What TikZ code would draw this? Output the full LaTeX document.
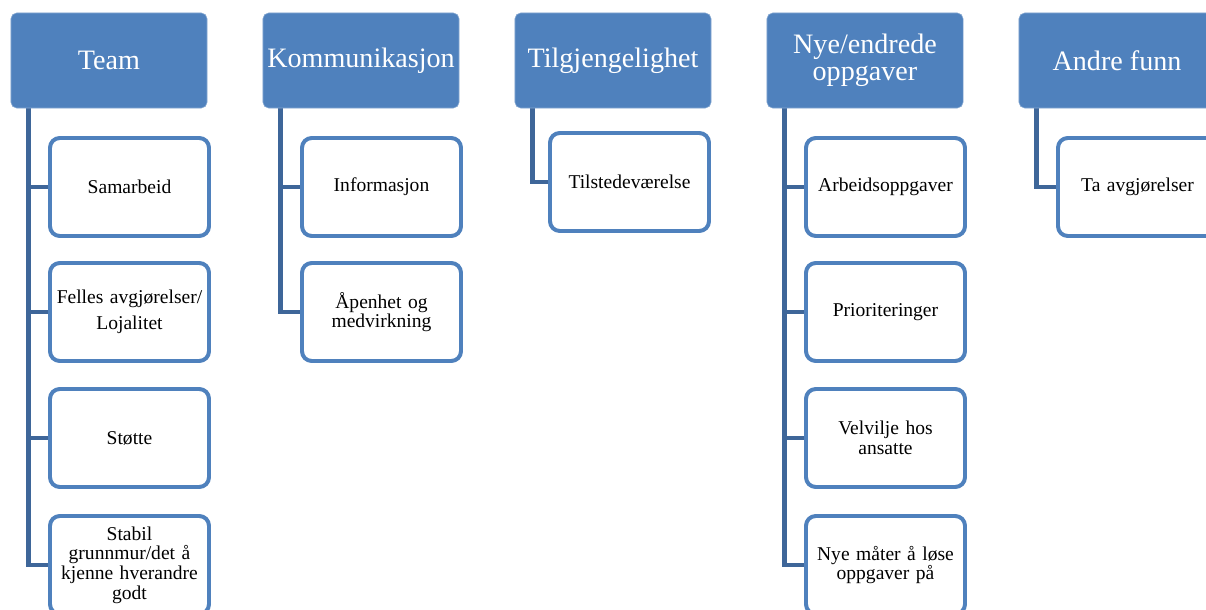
\documentclass[tikz,border=0pt]{standalone}
\usepackage{fontspec}
\setmainfont{Liberation Serif}
\usetikzlibrary{backgrounds}
\definecolor{hdblue}{HTML}{4F81BD}
\definecolor{lnblue}{HTML}{3E6699}
\begin{document}
\begin{tikzpicture}[x=0.025cm, y=-0.025cm,
    head/.style={fill=hdblue, draw=hdblue!70!white, line width=0.4pt, rounded corners=4pt, minimum width=4.9cm, minimum height=2.375cm, text=white, align=center, inner sep=2pt, font=\fontsize{20}{19.5}\selectfont},
    item/.style={draw=hdblue, fill=white, line width=2.8pt, rounded corners=7pt, minimum width=3.975cm, minimum height=2.45cm, text width=3.85cm, align=center, inner sep=1pt, font=\fontsize{13.9}{14}\selectfont},
    link/.style={draw=lnblue, line width=3.5pt}]
    \useasboundingbox (0,0) rectangle (1206,610);
    \clip (0,0) rectangle (1206,610);
    % headers
    \node[head] (team) at (109,60.5) {Team};
    \node[head] (komm) at (361,60.5) {Kommunikasjon};
    \node[head] (tilg) at (613,60.5) {Tilgjengelighet};
    \node[head] (nye) at (865,60.5) {Nye/endrede\\oppgaver};
    \node[head] (andre) at (1117,60.5) {Andre funn};
    % Team
    \node[item] (team1) at (129.5,187) {Samarbeid};
    \node[item] (team2) at (129.5,312) {Felles avgjørelser/\\[4.5pt]Lojalitet};
    \node[item] (team3) at (129.5,438) {Støtte};
    \node[item] (team4) at (129.5,565) {Stabil\\grunnmur/det å\\kjenne hverandre\\godt};
    % Kommunikasjon
    \node[item] (komm1) at (381.5,187) {Informasjon};
    \node[item] (komm2) at (381.5,312) {Åpenhet og\\medvirkning};
    % Tilgjengelighet
    \node[item] (tilg1) at (629.5,182) {Tilstedeværelse};
    % Nye/endrede oppgaver
    \node[item] (nye1) at (885.5,187) {Arbeidsoppgaver};
    \node[item] (nye2) at (885.5,312) {Prioriteringer};
    \node[item] (nye3) at (885.5,438) {Velvilje hos\\ansatte};
    \node[item] (nye4) at (885.5,565) {Nye måter å løse\\oppgaver på};
    % Andre funn
    \node[item] (andre1) at (1137.5,187) {Ta avgjørelser};
    % connectors
    \begin{scope}[on background layer]
    \foreach \h/\c in {team/team1, team/team2, team/team3, team/team4, komm/komm1, komm/komm2, tilg/tilg1, nye/nye1, nye/nye2, nye/nye3, nye/nye4, andre/andre1}
      \draw[link] ([xshift=0.45cm]\h.south west) |- (\c.west);
    \end{scope}
\end{tikzpicture}
\end{document}
